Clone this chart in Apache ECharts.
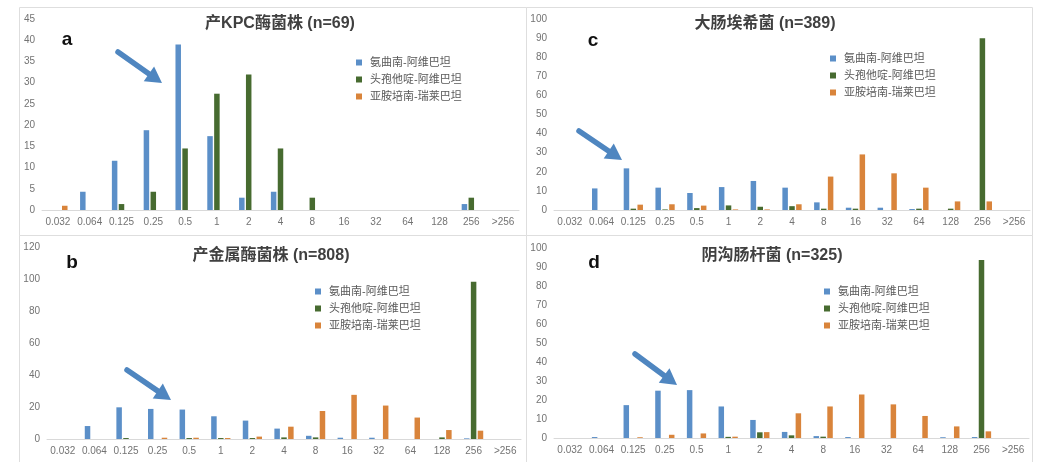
<!DOCTYPE html>
<html>
<head>
<meta charset="utf-8">
<script src="https://cdn.jsdelivr.net/npm/echarts@6/dist/echarts.min.js"></script>
<style>
html,body{margin:0;padding:0;background:#fff}
#chart{width:1038px;height:462px}
</style>
</head>
<body>
<div id="chart"></div>
<script>

// MIC categories and drug names
const cats = ["0.032","0.064","0.125","0.25","0.5","1","2","4","8","16","32","64","128","256",">256"]
const drugs = ["氨曲南-阿维巴坦","头孢他啶-阿维巴坦","亚胺培南-瑞莱巴坦"]

/* a: KPC */
const kpcAzt = [0,4.3,11.6,18.8,39,17.4,2.9,4.3,0,0,0,0,0,1.4,0]
const kpcCaz = [0,0,1.4,4.3,14.5,27.4,31.9,14.5,2.9,0,0,0,0,2.9,0]
const kpcImr = [1.0,0,0,0,0,0,0,0,0,0,0,0,0,0,0]

/* b: metallo */
const mblAzt = [0,8.1,19.8,18.8,18.4,14.2,11.5,6.5,2,0.8,0.8,0,0,0.4,0]
const mblCaz = [0,0,0.6,0,0.6,0.6,0.6,1,1,0,0,0,1,98.3,0]
const mblImr = [0,0,0,0.8,0.8,0.6,1.5,7.7,17.5,27.6,20.9,13.4,5.6,5.2,0]

/* c: E. coli */
const ecoAzt = [0,11.3,21.8,11.7,8.9,12,15.2,11.7,4,1.2,1.2,0.5,0,0,0]
const ecoCaz = [0,0,0.7,0.3,1,2.4,1.7,2,0.7,0.7,0,0.7,0.7,89.9,0]
const ecoImr = [0,0,2.8,3,2.3,0.3,0.3,3,17.5,29.1,19.2,11.7,4.5,4.5,0]

/* d: E. cloacae */
const eclAzt = [0,0.5,17.3,24.9,25.2,16.6,9.5,3.2,1,0.5,0,0,0.4,0.5,0]
const eclCaz = [0,0,0,0,0,0.6,3,1.4,0.7,0,0,0,0,93.7,0]
const eclImr = [0,0,0.4,1.7,2.4,0.7,3.1,13,16.6,22.9,17.7,11.6,6.1,3.5,0]

const titles = ["产KPC酶菌株 (n=69)","大肠埃希菌 (n=389)","产金属酶菌株 (n=808)","阴沟肠杆菌 (n=325)"]
const letters = ["a","c","b","d"]
const yMax = [45,100,120,100]
const yStep = [5,10,20,10]

const colors = ["#5b8fc8","#476b30","#d9843b"]
const FONT = "'Liberation Sans','Noto Sans CJK SC',sans-serif"

// panel layout: grid, title, letter, legend, arrow
const panels = [
{grid:{left:42,top:19,width:477,height:191}, title:[280,24], letter:[67,40], legend:[351,52], arrow:[118,52,162,83], data:[kpcAzt,kpcCaz,kpcImr]},
{grid:{left:554,top:19,width:476,height:191}, title:[765,24], letter:[593,41], legend:[825,48], arrow:[579,131,622,160], data:[ecoAzt,ecoCaz,ecoImr]},
{grid:{left:47,top:247,width:474,height:192}, title:[271,256], letter:[72,263], legend:[310,281], arrow:[127,370,171,400], data:[mblAzt,mblCaz,mblImr]},
{grid:{left:554,top:248,width:475,height:190}, title:[772,256], letter:[594,263], legend:[819,281], arrow:[635,354,677,385], data:[eclAzt,eclCaz,eclImr]}
]

function arrow(x1,y1,x2,y2){
const dx = x2-x1, dy = y2-y1
const len = Math.sqrt(dx*dx+dy*dy)
const ux = dx/len, uy = dy/len
const nx = -uy, ny = ux
const hl = 16, hw = 9
const bx = x2-ux*hl, by = y2-uy*hl
return [
{type:"line", shape:{x1:x1,y1:y1,x2:bx+ux*2,y2:by+uy*2}, style:{stroke:"#4f86c0",lineWidth:5.5,lineCap:"round"}},
{type:"polygon", shape:{points:[[x2,y2],[bx+nx*hw,by+ny*hw],[bx-nx*hw,by-ny*hw]]}, style:{fill:"#4f86c0"}}
]
}

const chart = echarts.init(document.getElementById("chart"))

const grids = [], xAxes = [], yAxes = [], series = [], legends = []
let graphics = [
{type:"rect", shape:{x:19.5,y:7.5,width:507,height:228}, style:{fill:"none",stroke:"#dedede",lineWidth:1}},
{type:"rect", shape:{x:526.5,y:7.5,width:506,height:228}, style:{fill:"none",stroke:"#dedede",lineWidth:1}},
{type:"rect", shape:{x:19.5,y:235.5,width:507,height:240}, style:{fill:"none",stroke:"#dedede",lineWidth:1}},
{type:"rect", shape:{x:526.5,y:235.5,width:506,height:240}, style:{fill:"none",stroke:"#dedede",lineWidth:1}}
]

panels.forEach((p,i) => {

grids.push(p.grid)

xAxes.push({
type:"category", gridIndex:i, data:cats,
axisTick:{show:false},
axisLine:{lineStyle:{color:"#d9d9d9"}},
axisLabel:{color:"#737373",fontSize:10,fontFamily:FONT,margin:7,interval:0}
})

yAxes.push({
type:"value", gridIndex:i, min:0, max:yMax[i], interval:yStep[i],
splitLine:{show:false},
axisLine:{show:false},
axisTick:{show:false},
axisLabel:{color:"#737373",fontSize:10,fontFamily:FONT,margin:7}
})

p.data.forEach((d,k) => {
series.push({
name:drugs[k], type:"bar", xAxisIndex:i, yAxisIndex:i,
data:d, barWidth:5.5, barGap:"25%",
itemStyle:{color:colors[k]},
animation:false
})
})

legends.push({
data:drugs, orient:"vertical", left:p.legend[0], top:p.legend[1],
icon:"rect", itemWidth:6, itemHeight:6, itemGap:6,
textStyle:{color:"#595959",fontSize:11,fontFamily:FONT,padding:[0,0,0,3]}
})

graphics.push({type:"text", x:p.title[0], y:p.title[1],
style:{text:titles[i],fill:"#404040",font:"bold 16px "+FONT,textAlign:"center",textVerticalAlign:"middle"}})

graphics.push({type:"text", x:p.letter[0], y:p.letter[1],
style:{text:letters[i],fill:"#111",font:"bold 19px "+FONT,textAlign:"center",textVerticalAlign:"middle"}})

graphics = graphics.concat(arrow.apply(null,p.arrow))

})

chart.setOption({
animation:false,
grid:grids,
xAxis:xAxes,
yAxis:yAxes,
legend:legends,
series:series,
graphic:graphics
})

</script>
</body>
</html>
